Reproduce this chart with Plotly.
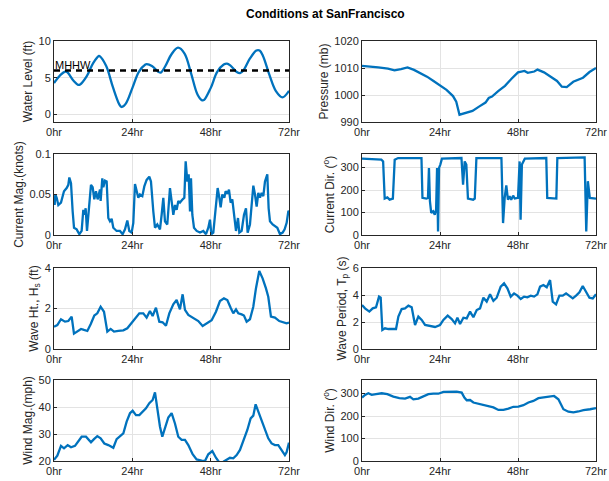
import plotly.graph_objects as go
from plotly.subplots import make_subplots

# ---------------- data (hours since start) ----------------
wl_t = [0, 2, 3.4, 4, 6, 7.4, 8, 10, 12, 13.8, 14, 16, 18, 20, 20.7, 22, 24, 26, 28, 28.4, 30, 32, 32.7,
        34, 36, 38, 40, 42, 44, 45.4, 46, 48, 50, 52, 53, 54, 56, 57, 58, 60, 62, 63, 64, 66, 68, 70, 72]
wl_v = [4.3, 5.4, 5.85, 5.8, 4.6, 4.05, 4.1, 5.2, 7.0, 7.97, 7.95, 6.6, 3.8, 1.4, 1.04, 1.5, 3.6, 5.8, 6.8, 6.85,
        6.6, 5.8, 5.7, 6.5, 8.2, 9.1, 8.3, 5.6, 2.7, 1.94, 2.0, 3.6, 5.8, 6.8, 6.93, 6.7, 5.8, 5.65, 6.0, 7.6,
        8.7, 8.7, 8.0, 5.4, 3.2, 2.35, 3.24]
mhhw = 6.0

pr_t = [0, 3, 5, 8, 10, 12, 14, 16, 18, 20, 22, 24, 26, 28, 29, 30, 32, 34, 36, 38, 39, 40, 42, 44, 46, 48,
        50, 51, 53, 54, 56, 58, 60, 61.5, 63, 65, 66.5, 68, 70, 72]
pr_v = [1010.8, 1010.3, 1010.2, 1009.8, 1009.1, 1009.6, 1010.2, 1009.3, 1008.2, 1006.8, 1005.2, 1003.5,
        1001.9, 999.6, 997.5, 992.7, 993.3, 994.1, 995.7, 997.2, 998.9, 999.4, 1001.5, 1003.4, 1006.0,
        1008.4, 1008.9, 1008.2, 1008.7, 1009.4, 1008.4, 1006.9, 1005.2, 1003.1, 1002.9, 1004.9, 1005.6,
        1006.4, 1008.5, 1010.0]

cm_t = [0.2, 0.41, 0.82, 1.33, 2.14, 3.06, 3.88, 4.39, 4.70, 5.21, 5.72, 6.13, 6.94, 7.76, 8.47, 8.98, 9.39,
        9.70, 10.11, 10.72, 11.33, 11.84, 12.35, 12.86, 13.37, 14.09, 14.29, 14.80, 15.11, 15.62, 16.13,
        16.64, 17.15, 17.66, 18.17, 19.19, 20.21, 21.03, 21.75, 22.46, 23.07, 23.79, 24.30, 24.81, 25.32,
        25.83, 26.34, 27.06, 27.67, 28.38, 29.20, 29.71, 30.43, 30.94, 31.65, 32.47, 32.98, 33.49, 34.00,
        34.71, 35.53, 36.05, 36.56, 37.07, 37.58, 38.09, 38.60, 39.42, 39.93, 40.34, 40.85, 41.26, 41.67,
        41.97, 42.38, 42.89, 43.71, 44.73, 45.75, 46.57, 47.28, 47.79, 48.20, 48.81, 49.53, 50.14, 50.65,
        51.06, 51.57, 52.18, 52.59, 53.10, 53.61, 54.12, 54.63, 55.14, 55.76, 56.37, 56.78, 57.49, 58.21,
        58.82, 59.33, 60.04, 60.55, 61.07, 61.58, 62.09, 62.60, 63.11, 63.62, 64.13, 64.64, 65.35, 65.76,
        66.17, 66.99, 67.70, 68.42, 69.23, 70.05, 70.66, 71.28, 71.79, 72.0]
cm_v = [0.037, 0.050, 0.046, 0.037, 0.040, 0.054, 0.058, 0.062, 0.071, 0.064, 0.029, 0.009, 0.007, 0.001,
        0.005, 0.031, 0.025, 0.033, 0.005, 0.033, 0.062, 0.059, 0.044, 0.054, 0.044, 0.056, 0.042, 0.070,
        0.059, 0.067, 0.066, 0.021, 0.017, 0.020, 0.009, 0.005, 0.005, 0.001, 0.007, 0.018, 0.005, 0.003,
        0.015, 0.063, 0.056, 0.046, 0.050, 0.048, 0.060, 0.068, 0.072, 0.066, 0.029, 0.009, 0.013, 0.007,
        0.025, 0.046, 0.017, 0.013, 0.058, 0.037, 0.025, 0.037, 0.031, 0.042, 0.040, 0.044, 0.046, 0.091,
        0.066, 0.075, 0.029, 0.070, 0.025, 0.009, 0.005, 0.003, 0.005, 0.001, 0.009, 0.019, 0.001, 0.003,
        0.029, 0.058, 0.046, 0.034, 0.050, 0.046, 0.054, 0.051, 0.056, 0.040, 0.044, 0.025, 0.005, 0.021,
        0.003, 0.005, 0.025, 0.033, 0.003, 0.013, 0.042, 0.061, 0.050, 0.035, 0.052, 0.046, 0.052, 0.048,
        0.066, 0.075, 0.033, 0.017, 0.013, 0.011, 0.009, 0.001, 0.003, 0.007, 0.015, 0.029, 0.030]

cd_t = [0, 5.95, 6.5, 6.98, 7.8, 8.5, 9.5, 10.06, 11.1, 18.3, 18.6, 19.8, 20.3, 20.6, 20.9, 21.3, 21.9, 22.4,
        22.8, 23.1, 23.4, 23.7, 24.1, 24.6, 30.6, 31.1, 31.6, 32.1, 32.6, 34.2, 34.7, 35.2, 42.9, 43.4, 43.9,
        44.4, 44.9, 45.4, 45.9, 46.5, 47.0, 48.0, 48.5, 48.8, 49.2, 50.1, 56.7, 57.0, 59.8, 60.1, 68.5, 69.0,
        69.5, 70.1, 72.0]
cd_v = [339, 335, 327, 162, 167, 157, 162, 335, 342, 342, 165, 162, 165, 298, 150, 98, 105, 90,
        113, 298, 16, 298, 313, 339, 342, 224, 327, 313, 162, 157, 162, 342, 342, 53, 165,
        221, 157, 172, 157, 175, 162, 165, 327, 68, 313, 339, 342, 165, 162, 342, 345, 16,
        239, 165, 162]

wh_t = [0, 1.02, 2.14, 3.37, 4.39, 5.41, 6.12, 7.14, 8.27, 9.19, 10.21, 11.23, 12.35, 13.27, 14.29, 15.32,
        16.34, 17.36, 18.38, 19.71, 21.24, 22.46, 23.79, 24.81, 26.14, 27.36, 28.38, 29.4, 30.22, 31.24,
        32.26, 33.28, 34.3, 35.33, 36.55, 37.57, 38.59, 39.41, 40.13, 41.15, 42.68, 44.21, 45.54, 46.97,
        48.3, 49.62, 50.85, 52.07, 53.1, 54.12, 54.93, 55.76, 56.47, 57.49, 58.2, 59.02, 60.04, 61.06,
        61.87, 62.89, 63.91, 64.94, 65.65, 66.47, 67.69, 69.02, 70.24, 71.26, 72.0]
wh_v = [1.10, 1.18, 1.47, 1.35, 1.38, 1.60, 0.76, 0.89, 0.99, 0.94, 0.89, 1.22, 1.65, 1.76, 2.09, 1.84,
        0.86, 0.99, 0.86, 0.89, 0.92, 1.02, 1.30, 1.52, 1.76, 1.76, 1.55, 1.88, 1.63, 2.04, 1.35, 1.32,
        1.15, 1.76, 2.21, 2.42, 1.96, 2.70, 1.93, 1.68, 1.52, 1.38, 1.14, 1.27, 1.42, 1.84, 2.37, 2.50,
        2.42, 2.04, 1.76, 1.96, 1.76, 1.71, 1.65, 1.35, 1.47, 2.09, 2.99, 3.85, 3.49, 2.99, 2.58, 1.60,
        1.55, 1.38, 1.30, 1.27, 1.30]

wp_t = [0, 0.93, 2.26, 3.29, 4.31, 5.24, 5.75, 6.26, 7.08, 8.11, 9.44, 10.47, 11.19, 12.21, 13.24, 14.27,
        15.29, 16.32, 17.34, 18.37, 19.4, 20.94, 22.47, 24.01, 25.04, 26.37, 27.6, 28.63, 29.35, 30.17,
        31.2, 32.22, 33.25, 34.27, 35.3, 36.32, 37.35, 38.37, 39.4, 40.43, 41.45, 42.68, 43.71, 44.74,
        45.76, 46.79, 47.82, 48.84, 49.87, 50.89, 51.92, 52.95, 53.97, 54.79, 55.82, 56.84, 57.87, 58.69,
        59.71, 60.74, 61.77, 62.79, 63.82, 64.85, 65.87, 66.9, 67.92, 68.95, 69.98, 71.0, 72.0]
wp_v = [3.26, 3.01, 2.77, 3.01, 3.09, 3.88, 3.80, 1.41, 1.53, 1.48, 1.48, 1.48, 2.40, 2.96, 3.01, 3.21,
        3.09, 1.78, 2.40, 2.15, 1.78, 1.70, 1.63, 1.78, 2.15, 2.47, 2.22, 1.90, 2.32, 1.85, 2.32, 2.27,
        2.77, 2.35, 2.89, 3.01, 3.80, 3.51, 4.05, 3.56, 3.80, 4.62, 4.86, 4.49, 3.88, 4.12, 3.95, 3.70,
        3.88, 3.83, 3.95, 3.88, 4.05, 4.62, 4.74, 4.57, 5.11, 3.51, 3.31, 3.95, 3.95, 4.12, 3.95, 3.75,
        3.95, 4.20, 4.67, 4.25, 3.80, 3.75, 4.05]

wm_t = [0, 1.02, 2.14, 3.06, 4.19, 5.21, 6.43, 7.45, 8.47, 9.8, 10.51, 11.33, 12.25, 13.27, 14.29, 15.42,
        16.64, 18.17, 19.19, 20.21, 21.24, 22.26, 23.28, 24.1, 25.12, 26.14, 27.16, 28.18, 29.2, 30.22,
        30.94, 31.65, 32.47, 33.18, 34.0, 35.02, 36.04, 37.06, 38.08, 39.1, 40.13, 41.15, 42.47, 43.7,
        45.23, 46.25, 47.27, 48.5, 49.62, 50.64, 51.87, 52.89, 53.91, 54.93, 55.96, 56.98, 58.0, 59.23,
        60.25, 61.06, 61.78, 62.6, 63.61, 64.63, 65.65, 66.67, 67.69, 68.71, 69.73, 70.75, 71.26, 72.0]
wm_v = [20.4, 22.0, 25.6, 24.7, 25.9, 25.1, 25.6, 27.2, 29.0, 29.0, 28.1, 26.9, 28.1, 29.2, 28.4, 26.5,
        25.9, 24.9, 28.1, 29.2, 30.2, 34.6, 37.7, 38.6, 37.0, 37.0, 38.3, 39.5, 41.4, 42.6, 45.4, 38.9,
        32.7, 29.0, 32.1, 36.1, 37.7, 33.9, 29.0, 27.8, 27.8, 25.9, 22.5, 20.6, 20.1, 20.0, 22.5, 23.7,
        21.2, 19.5, 19.7, 20.6, 21.2, 21.0, 22.2, 24.1, 27.2, 31.5, 35.8, 36.8, 41.0, 38.3, 34.8, 31.5,
        28.4, 26.5, 25.9, 25.9, 24.1, 22.2, 23.2, 26.8]

wd_t = [0, 0.93, 1.95, 2.98, 4.31, 6.06, 7.8, 9.65, 11.49, 13.24, 14.78, 15.8, 17.34, 18.88, 20.42, 21.96,
        23.5, 25.04, 27.09, 29.14, 30.68, 31.5, 32.22, 33.25, 34.27, 35.81, 37.35, 38.89, 40.43, 41.97,
        43.51, 45.05, 46.58, 48.12, 49.66, 51.2, 52.74, 54.28, 55.82, 57.35, 59.1, 60.43, 61.15, 61.97,
        63.51, 65.05, 66.59, 68.13, 70.18, 72.0]
wd_v = [282, 294, 301, 294, 297, 301, 297, 286, 279, 277, 285, 274, 277, 286, 297, 299, 299, 307, 308,
        308, 304, 282, 270, 271, 260, 255, 248, 245, 238, 227, 227, 233, 241, 242, 248, 260, 267, 279,
        282, 286, 289, 274, 252, 230, 219, 216, 220, 226, 230, 235]

x_tickvals = [0, 24, 48, 72]
x_ticktext = ["0hr", "24hr", "48hr", "72hr"]

# ---------------- figure ----------------
BLUE = "#0072BD"
INK = "#262626"
GRID = "#e3e3e3"
FONT = "Liberation Sans, Arial, sans-serif"
W, H = 609, 481

fig = make_subplots(rows=4, cols=2)

series = [
    (1, 1, wl_t, wl_v, "spline"), (1, 2, pr_t, pr_v, "linear"),
    (2, 1, cm_t, cm_v, "linear"), (2, 2, cd_t, cd_v, "linear"),
    (3, 1, wh_t, wh_v, "linear"), (3, 2, wp_t, wp_v, "linear"),
    (4, 1, wm_t, wm_v, "linear"), (4, 2, wd_t, wd_v, "linear"),
]
for r, c, t, v, shp in series:
    fig.add_trace(go.Scatter(x=t, y=v, mode="lines", line=dict(color=BLUE, width=2.3, shape=shp),
                             showlegend=False, hoverinfo="skip"), row=r, col=c)

fig.add_trace(go.Scatter(x=[0, 72], y=[mhhw, mhhw], mode="lines",
                         line=dict(color="black", width=2.5, dash="6px,5px"),
                         showlegend=False, hoverinfo="skip"), row=1, col=1)

col_x = {1: (54, 289), 2: (362, 596)}
row_y = {1: (41, 122), 2: (154, 235), 3: (268, 349), 4: (380, 461)}

ycfg = {
    (1, 1): ([-1, 10], [0, 5, 10], ["0", "5", "10"], "Water Level (ft)"),
    (1, 2): ([990, 1020], [990, 1000, 1010, 1020], ["990", "1000", "1010", "1020"], "Pressure (mb)"),
    (2, 1): ([0, 0.1], [0, 0.05, 0.1], ["0", "0.05", "0.1"], "Current Mag.(knots)"),
    (2, 2): ([0, 360], [0, 100, 200, 300], ["0", "100", "200", "300"], "Current Dir. (<sup>o</sup>)"),
    (3, 1): ([0, 4], [0, 2, 4], ["0", "2", "4"], "Wave Ht., H<sub>s</sub> (ft)"),
    (3, 2): ([0, 6], [0, 2, 4, 6], ["0", "2", "4", "6"], "Wave Period, T<sub>p</sub> (s)"),
    (4, 1): ([20, 50], [20, 30, 40, 50], ["20", "30", "40", "50"], "Wind Mag.(mph)"),
    (4, 2): ([0, 360], [0, 100, 200, 300], ["0", "100", "200", "300"], "Wind Dir. (<sup>o</sup>)"),
}

for r in range(1, 5):
    for c in range(1, 3):
        x0, x1 = col_x[c]
        y0, y1 = row_y[r]
        yr, yt, ytt, ttl = ycfg[(r, c)]
        if r == 3:
            xtv, xtt = x_tickvals[:3], x_ticktext[:3]
        else:
            xtv, xtt = x_tickvals, x_ticktext
        fig.update_xaxes(domain=[x0 / W, x1 / W], range=[0, 72], tickvals=xtv, ticktext=xtt,
                         showgrid=True, gridcolor=GRID, gridwidth=1, zeroline=False,
                         showline=True, mirror=True, linecolor=INK, linewidth=1,
                         ticks="inside", ticklen=3, tickcolor=INK, automargin=False,
                         tickfont=dict(family=FONT, size=11, color=INK), row=r, col=c)
        fig.update_yaxes(domain=[1 - y1 / H, 1 - y0 / H], range=yr, tickvals=yt, ticktext=ytt,
                         showgrid=True, gridcolor=GRID, gridwidth=1, zeroline=False,
                         showline=True, mirror=True, linecolor=INK, linewidth=1,
                         ticks="inside", ticklen=3, tickcolor=INK, automargin=False,
                         tickfont=dict(family=FONT, size=11, color=INK),
                         title=dict(text=ttl, font=dict(family=FONT, size=12, color=INK), standoff=3),
                         row=r, col=c)

fig.add_annotation(x=0, y=mhhw, xref="x", yref="y", text="MHHW", showarrow=False,
                   xanchor="left", yanchor="bottom", yshift=-3, xshift=-1,
                   font=dict(family=FONT, size=11, color="black"))

fig.add_annotation(x=325 / W, y=1 - 14 / H, xref="paper", yref="paper",
                   text="<b>Conditions at SanFrancisco</b>", showarrow=False,
                   xanchor="center", yanchor="middle",
                   font=dict(family=FONT, size=12, color="black"))

fig.update_layout(width=W, height=H, margin=dict(l=0, r=0, t=0, b=0),
                  paper_bgcolor="white", plot_bgcolor="white",
                  font=dict(family=FONT, color=INK))

fig.write_html("out.html", config={"displayModeBar": False},
               post_script="document.body.style.margin='0';document.body.style.padding='0';"
                           "document.body.style.overflow='hidden';")
